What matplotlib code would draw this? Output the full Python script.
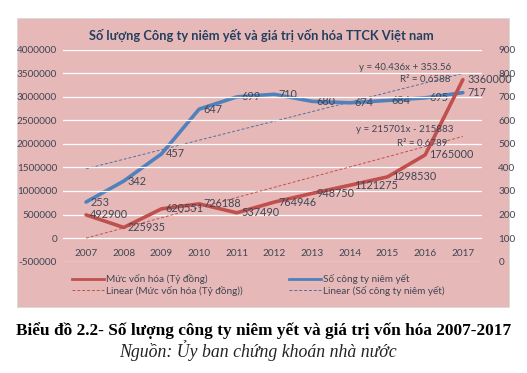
import matplotlib
matplotlib.use("Agg")
import matplotlib.pyplot as plt
from matplotlib.lines import Line2D
from matplotlib.patches import Rectangle
import numpy as np

years = [2007, 2008, 2009, 2010, 2011, 2012, 2013, 2014, 2015, 2016, 2017]
cap_values = [492900, 225935, 620551, 726188, 537490, 764946, 948750, 1121275, 1298530, 1765000, 3360000]
company_counts = [253, 342, 457, 647, 699, 710, 680, 674, 684, 695, 717]
cap_trend = (215701, -215883, 0.6789)
cnt_trend = (40.436, 353.56, 0.6588)
left_ticks = [-500000, 0, 500000, 1000000, 1500000, 2000000, 2500000, 3000000, 3500000, 4000000]
right_ticks = [0, 100, 200, 300, 400, 500, 600, 700, 800, 900]

title = "Số lượng Công ty niêm yết và giá trị vốn hóa TTCK Việt nam"
legend_labels = ["Mức vốn hóa (Tỷ đồng)", "Linear (Mức vốn hóa (Tỷ đồng))",
                 "Số công ty niêm yết", "Linear (Số công ty niêm yết)"]
caption = "Biểu đồ 2.2- Số lượng công ty niêm yết và giá trị vốn hóa 2007-2017"
source = "Nguồn: Ủy ban chứng khoán nhà nước"

FONT = ["Lato", "DejaVu Sans"]
plt.rcParams['font.family'] = FONT

W, H = 527, 373
fig = plt.figure(figsize=(W / 100, H / 100), dpi=100)
fig.patch.set_facecolor("white")

bg = "#E6B9B8"
txt = "#404554"
fig.patches.append(Rectangle((17 / W, 1 - 307 / H), (509 - 17) / W, (307 - 18) / H,
                             transform=fig.transFigure, facecolor=bg, edgecolor="#D9D9D9",
                             lw=0.6, zorder=-5))

ax_l, ax_r = 62.7, 481.7
ax_t, ax_b = 49.5, 261.7
ax = fig.add_axes([ax_l / W, 1 - ax_b / H, (ax_r - ax_l) / W, (ax_b - ax_t) / H])
ax2 = ax.twinx()
ax.set_zorder(2)
ax2.set_zorder(1)
ax.patch.set_visible(False)
ax2.patch.set_visible(False)

ax.set_xlim(2006.38, 2017.5)
ax.set_ylim(-500000, 4000000)
ax2.set_ylim(0, 900)

for a in (ax, ax2):
    for s in a.spines.values():
        s.set_visible(False)

ax.set_yticks(left_ticks)
ax.set_yticklabels([str(v) for v in left_ticks])
ax2.set_yticks(right_ticks)
ax2.set_yticklabels([str(v) for v in right_ticks])
ax.tick_params(axis='y', length=0, pad=4, labelsize=7.2, labelcolor=txt)
ax2.tick_params(axis='y', length=0, pad=12, labelsize=7.2, labelcolor=txt)
ax.spines['bottom'].set_position(('data', 0))
ax.set_xticks(years)
ax.set_xticklabels([str(y) for y in years])
ax.tick_params(axis='x', length=0, pad=8, labelsize=7.2, labelcolor=txt)
ax.grid(axis='y', color="white", lw=0.9)
ax.set_axisbelow(True)

x = np.array(years)
idx = np.arange(1, len(years) + 1)

# trendlines
ax.plot(x, cap_trend[0] * idx + cap_trend[1], color="#C0504D", lw=0.7, ls=(0, (3, 2)), zorder=2)
ax2.plot(x, cnt_trend[0] * idx + cnt_trend[1], color="#4F6FA5", lw=0.7, ls=(0, (3, 2)), zorder=2)

# series
ax2.plot(x, company_counts, color="#4F81BD", lw=2.6, solid_capstyle='round',
         solid_joinstyle='round', zorder=3)
ax.plot(x, cap_values, color="#C0504D", lw=2.6, solid_capstyle='round',
        solid_joinstyle='round', zorder=4)

for xi, v in zip(x, company_counts):
    ax2.annotate(str(v), (xi, v), xytext=(3, 0), textcoords='offset points',
                 ha='left', va='center', fontsize=7.8, color=txt, zorder=6)
for xi, v in zip(x, cap_values):
    ax.annotate(str(v), (xi, v), xytext=(3, 0), textcoords='offset points',
                ha='left', va='center', fontsize=7.8, color=txt, zorder=6)

# trendline equations
fig.text(405 / W, 1 - 67 / H, "y = %.3fx + %.2f" % (cnt_trend[0], cnt_trend[1]),
         ha='center', va='center', fontsize=7, color=txt)
fig.text(450 / W, 1 - 80 / H, "R² = %.4f" % cnt_trend[2],
         ha='right', va='center', fontsize=7, color=txt)
fig.text(405 / W, 1 - 130 / H, "y = %dx - %d" % (cap_trend[0], -cap_trend[1]),
         ha='center', va='center', fontsize=7, color=txt)
fig.text(447 / W, 1 - 143 / H, "R² = %.4f" % cap_trend[2],
         ha='right', va='center', fontsize=7, color=txt)

fig.text(261 / W, 1 - 35 / H, title, ha='center', va='center', fontsize=9.3,
         fontweight='bold', color="#243F60")

handles = [Line2D([], [], color="#C0504D", lw=2),
           Line2D([], [], color="#C0504D", lw=0.7, ls=(0, (3, 2))),
           Line2D([], [], color="#4F81BD", lw=2),
           Line2D([], [], color="#4F6FA5", lw=0.7, ls=(0, (3, 2)))]
leg = fig.legend(handles, legend_labels, ncol=2, loc='upper left',
                 bbox_to_anchor=(72 / W, 1 - 274 / H), frameon=False, fontsize=7.2,
                 handlelength=3.2, handletextpad=0.2, columnspacing=4.6,
                 labelspacing=0.15, borderaxespad=0, borderpad=0)
for t in leg.get_texts():
    t.set_color(txt)

fig.text(264 / W, 1 - 331 / H, caption, ha='center', va='center', fontsize=12.4,
         fontweight='bold', family='Liberation Serif', color="black")
fig.text(258 / W, 1 - 351 / H, source, ha='center', va='center', fontsize=12.8,
         style='italic', family='Liberation Serif', color="#222222")

fig.savefig("out.png", dpi=100, facecolor="white")
